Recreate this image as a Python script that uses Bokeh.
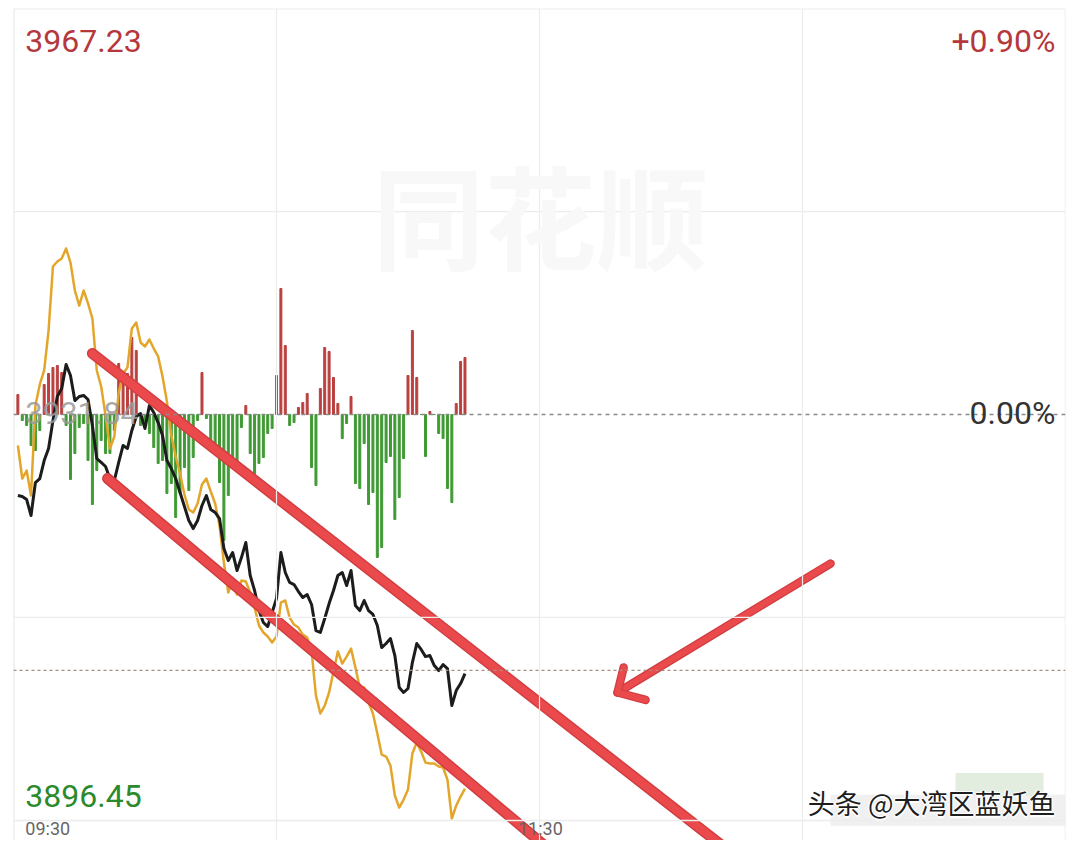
from bokeh.plotting import figure
from bokeh.models import Range1d, Span, Label, ColumnDataSource
from bokeh.embed import file_html
from bokeh.resources import INLINE

# ---------------- data ----------------
PRE_CLOSE = 3931.84
HIGH_LABEL = "3967.23"
LOW_LABEL = "3896.45"
HIGH_PRICE = 3967.23
LOW_PRICE = 3896.45
UP_PCT = "+0.90%"
ZERO_PCT = "0.00%"
REF_LEVEL = 3909.53          # brownish dashed reference level
GRID_PRICES = [3949.53, 3914.15]
GRID_MINUTES = [60, 120, 180]
TIME_LABELS = ["09:30", "11:30"]
TIME_LABEL_MINUTES = [2.7, 120.2]

minutes = list(range(1, 104))   # minutes after 09:30

index_price = [
    3924.78, 3924.69, 3924.43, 3923.04, 3925.91, 3926.26, 3927.83, 3928.88, 3931.32, 3933.41,
    3934.11, 3936.20, 3935.24, 3933.06, 3933.41, 3933.50, 3933.15, 3930.88, 3928.00, 3927.66,
    3927.31, 3926.26, 3926.09, 3927.66, 3929.14, 3928.88, 3930.45, 3931.67, 3931.93, 3930.62,
    3932.62, 3932.01, 3931.14, 3930.01, 3927.83, 3927.13, 3926.26, 3925.04, 3923.82, 3922.60,
    3921.90, 3922.60, 3923.91, 3924.78, 3923.56, 3923.30, 3922.77, 3920.16, 3919.11, 3919.81,
    3918.24, 3919.37, 3920.68, 3917.81, 3916.50, 3914.75, 3913.71, 3913.36, 3914.58, 3915.80,
    3919.81, 3918.07, 3917.20, 3917.02, 3916.41, 3915.89, 3916.15, 3915.28, 3913.01, 3912.84,
    3914.06, 3915.36, 3916.50, 3917.81, 3918.07, 3916.93, 3918.24, 3915.19, 3914.75, 3915.63,
    3914.75, 3914.41, 3913.45, 3911.53, 3911.88, 3912.31, 3910.83, 3908.04, 3907.61, 3907.96,
    3910.22, 3911.88, 3911.36, 3910.74, 3910.83, 3909.96, 3909.52, 3910.05, 3909.70, 3906.47,
    3907.78, 3908.39, 3909.26,
]

equal_weight = [
    3929.14, 3926.26, 3926.96, 3924.78, 3932.62, 3934.46, 3935.68, 3939.16, 3944.74, 3945.18,
    3945.44, 3946.31, 3945.09, 3942.65, 3941.34, 3942.65, 3941.52, 3940.21, 3935.68, 3934.28,
    3931.75, 3928.88, 3929.92, 3933.76, 3935.41, 3935.94, 3939.34, 3939.86, 3938.12, 3937.77,
    3938.38, 3937.59, 3936.90, 3935.15, 3932.97, 3930.01, 3928.18, 3926.70, 3924.87, 3923.56,
    3923.30, 3924.08, 3925.74, 3926.26, 3925.13, 3924.08, 3922.16, 3918.94, 3916.32, 3917.46,
    3916.15, 3917.37, 3917.28, 3916.32, 3915.02, 3913.45, 3912.84, 3912.49, 3911.97, 3912.49,
    3915.45, 3915.63, 3914.14, 3913.53, 3913.27, 3912.66, 3912.40, 3911.27, 3907.34, 3905.78,
    3906.47, 3907.61, 3909.44, 3911.18, 3910.13, 3910.74, 3911.44, 3909.79, 3908.04, 3908.04,
    3906.74, 3905.78, 3904.03, 3902.20, 3902.03, 3901.24, 3898.63, 3897.58, 3898.28, 3899.15,
    3902.29, 3903.25, 3902.46, 3901.50, 3901.42, 3901.42, 3901.16, 3901.07, 3900.02, 3896.62,
    3897.76, 3898.54, 3899.24,
]

force_bars = [
    2.0, -0.6, -1.1, -3.1, -3.6, -1.6, 3.0, 4.1, 4.7, 4.9,
    4.2, -1.1, -6.5, -3.9, -1.3, -0.9, -4.6, -9.0, -5.6, -2.6,
    -3.9, -3.9, -1.6, 5.1, 3.6, 4.1, 7.7, 6.4, -1.1, -0.6,
    -1.9, -3.3, -4.9, -4.6, -7.9, -6.9, -10.3, -7.9, -5.3, -7.6,
    -4.3, -0.6, 4.2, -0.4, -3.0, -3.0, -6.8, -12.6, -8.1, -4.3,
    -4.9, -1.3, 0.9, -3.9, -5.9, -4.9, -4.3, -1.9, -1.4, 3.9,
    12.6, 6.9, -1.1, -0.8, 0.7, 1.2, 2.1, -5.3, -7.1, 2.6,
    6.7, 6.3, 3.7, 1.1, -2.4, -0.9, 1.8, -6.9, -7.4, -2.9,
    -9.0, -7.8, -14.3, -13.3, -4.8, -4.2, -10.5, -8.3, -4.4, 3.9,
    8.4, 3.7, 0.0, -4.2, 0.3, 0.0, -1.9, -2.4, -7.4, -8.8,
    1.1, 5.3, 5.7,
]

# hand-drawn annotations (minute, price)
trend_upper = ([18.0, 163.1], [3937.16, 3893.83])
trend_lower = ([21.45, 122.5], [3926.26, 3893.83])
arrow_shaft = ([186.4, 137.8], [3918.85, 3907.61])
arrow_head = ([139.2, 137.8, 144.2], [3909.79, 3907.61, 3906.96])

RED_TXT = "#b5383c"
GREEN_TXT = "#2b8a2b"
BAR_RED = "#b9403f"
BAR_GREEN = "#3f9a33"

# ---------------- figure ----------------
p = figure(width=1072, height=840,
           x_range=Range1d(0, 240), y_range=Range1d(3894.71, 3967.23),
           output_backend="svg", toolbar_location=None,
           x_axis_location=None, y_axis_location=None,
           min_border_left=13, min_border_right=7, min_border_top=8, min_border_bottom=0)
p.grid.visible = False
p.outline_line_color = None
p.background_fill_color = "white"
p.border_fill_color = "white"
p.extra_y_ranges = {"force": Range1d(-42.6, 40.6)}

# grid / borders
for m in GRID_MINUTES:
    p.add_layout(Span(location=m, dimension="height", line_color="#ececec", line_width=1.2))
for g in GRID_PRICES:
    p.add_layout(Span(location=g, dimension="width", line_color="#ececec", line_width=1.2))
p.add_layout(Span(location=0, dimension="height", line_color="#e6e6e6", line_width=2))
p.add_layout(Span(location=240, dimension="height", line_color="#ececec", line_width=1.5))
p.add_layout(Span(location=HIGH_PRICE, dimension="width", line_color="#ececec", line_width=2))
p.add_layout(Span(location=LOW_PRICE, dimension="width", line_color="#ececec", line_width=1.5))

# faint watermark
p.add_layout(Label(x=120.2, y=3949.4, text="同花顺", text_font="Noto Sans CJK SC",
                   text_font_style="bold", text_font_size="112px", text_color="#f8f8f8",
                   text_align="center", text_baseline="middle"))

# soft mosaic behind author tag
p.quad(left=[186.4, 214.9], right=[240, 235.0], bottom=[3896.0, 3898.6],
       top=[3898.7, 3900.6], fill_color=["#ececec", "#dbe9d8"], line_color=None, fill_alpha=0.8)

# reference dashed lines
p.add_layout(Span(location=REF_LEVEL, dimension="width", line_color="#a39182",
                  line_width=1.2, line_dash="3 3"))
p.add_layout(Span(location=PRE_CLOSE, dimension="width", line_color="#8a8a8a",
                  line_width=1.5, line_dash="4 4"))

# bars
bar_colors = [BAR_RED if v > 0 else BAR_GREEN for v in force_bars]
src_b = ColumnDataSource(dict(x=minutes, top=force_bars, c=bar_colors))
p.vbar(x="x", top="top", bottom=0, width=0.45, color="c", source=src_b, y_range_name="force")

# previous close label (grey, under lines)
p.add_layout(Label(x=2.7, y=3932.0, text=f"{PRE_CLOSE:.2f}", text_font="Roboto",
                   text_font_size="31px", text_color="#9a9a9a", text_alpha=0.85,
                   text_align="left", text_baseline="middle"))

# lines
p.line(minutes, equal_weight, line_color="#e3a62a", line_width=2.5, line_join="round")
p.line(minutes, index_price, line_color="#1c1c1c", line_width=3, line_join="round")

# red annotations
for xs, ys in (trend_upper, trend_lower):
    p.line(xs, ys, line_color="#d23d40", line_width=11, line_cap="round")
    p.line(xs, ys, line_color="#ea4a4c", line_width=8, line_cap="round")
for xs, ys in (arrow_shaft, arrow_head):
    p.line(xs, ys, line_color="#d23d40", line_width=8.5, line_cap="round", line_join="round")
    p.line(xs, ys, line_color="#ea4a4c", line_width=6, line_cap="round", line_join="round")

# corner texts
p.add_layout(Label(x=2.7, y=3964.4, text=HIGH_LABEL, text_font="Roboto", text_font_size="32px",
                   text_color=RED_TXT, text_align="left", text_baseline="middle"))
p.add_layout(Label(x=237.7, y=3964.4, text=UP_PCT, text_font="Roboto", text_font_size="32px",
                   text_color=RED_TXT, text_align="right", text_baseline="middle"))
p.add_layout(Label(x=237.7, y=3932.0, text=ZERO_PCT, text_font="Roboto", text_font_size="32px",
                   text_color="#333333", text_align="right", text_baseline="middle"))
p.add_layout(Label(x=2.7, y=3898.6, text=LOW_LABEL, text_font="Roboto", text_font_size="32px",
                   text_color=GREEN_TXT, text_align="left", text_baseline="middle"))

# time labels along the bottom edge (kept fully inside the canvas)
for t, m in zip(TIME_LABELS, TIME_LABEL_MINUTES):
    p.add_layout(Label(x=m, y=3895.75, text=t, text_font="Roboto", text_font_size="18px",
                       text_color="#666666", text_align="left" if m < 10 else "center",
                       text_baseline="middle"))

# author watermark with white halo
for dx, dy in ((-1.5, 0), (1.5, 0), (0, -1.5), (0, 1.5)):
    p.add_layout(Label(x=237.7, y=3898.0, x_offset=dx, y_offset=dy, text="头条 @大湾区蓝妖鱼",
                       text_font="Noto Sans CJK SC", text_font_size="27px", text_color="white",
                       text_align="right", text_baseline="middle"))
p.add_layout(Label(x=237.7, y=3898.0, text="头条 @大湾区蓝妖鱼",
                   text_font="Noto Sans CJK SC", text_font_size="27px", text_color="#1e1e1e",
                   text_align="right", text_baseline="middle"))

open("out.html", "w").write(file_html(p, INLINE))
